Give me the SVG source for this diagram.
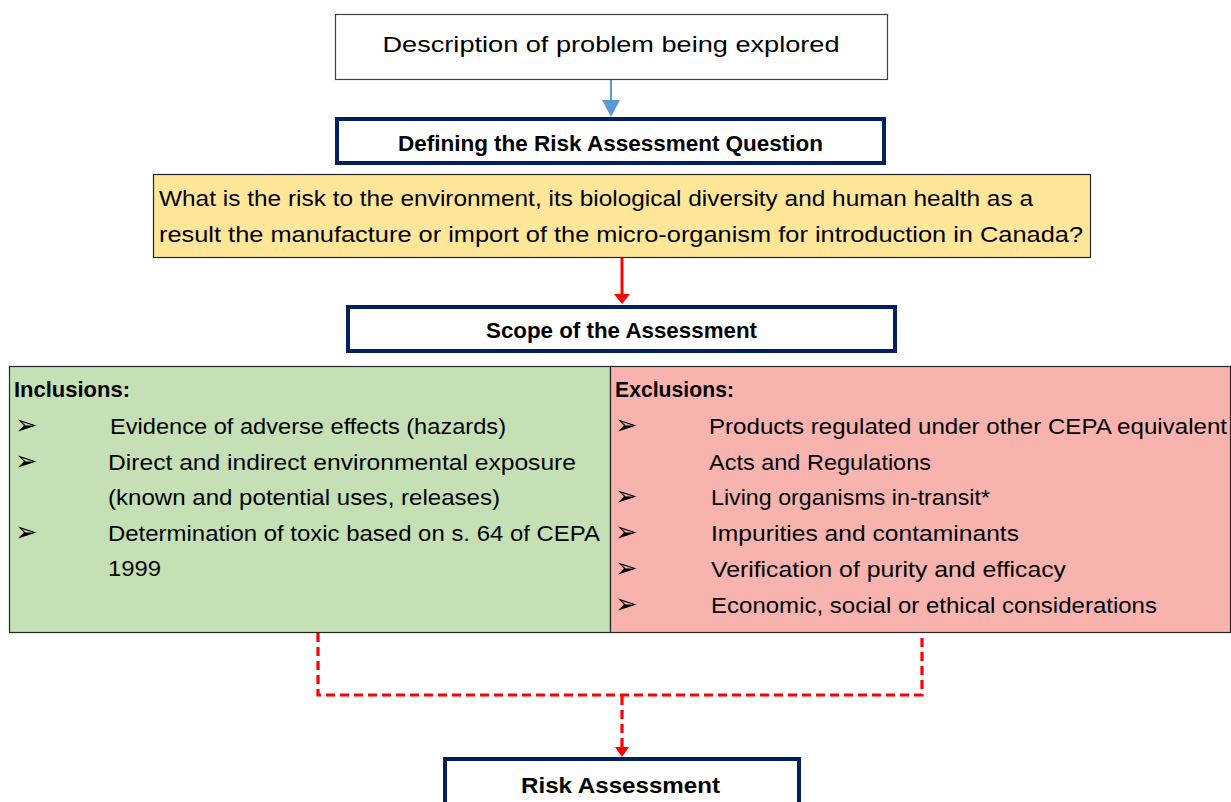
<svg xmlns="http://www.w3.org/2000/svg" width="1231" height="802" viewBox="0 0 1231 802">
  <defs>
    <style>
      .t { font-family: "Liberation Sans", Arial, sans-serif; font-size: 22px; fill: #000; }
      .b { font-weight: bold; }
      .bul { font-family: "DejaVu Sans", sans-serif; font-size: 27px; fill: #000; }
      .navy { fill: #fff; stroke: #002060; stroke-width: 4; }
    </style>
  </defs>

  <!-- connectors -->
  <g id="connectors">
    <line x1="611" y1="79" x2="611" y2="102" stroke="#5B9BD5" stroke-width="2"/>
    <path d="M602,100 L620,100 L611,117 Z" fill="#5B9BD5"/>
    <line x1="622" y1="258" x2="622" y2="298" stroke="#FF0000" stroke-width="3"/>
    <path d="M614,294 L630,294 L622,304 Z" fill="#FF0000"/>
    <path d="M318,633 L318,695 L922,695 L922,633" fill="none" stroke="#FF0000" stroke-width="3.2" stroke-dasharray="9,5"/>
    <line x1="622" y1="696" x2="622" y2="750" stroke="#FF0000" stroke-width="3.2" stroke-dasharray="9,5"/>
    <path d="M615,747 L629,747 L622,757 Z" fill="#FF0000"/>
  </g>

  <g id="node-description">
    <rect x="335.5" y="14.5" width="552" height="65" fill="#fff" stroke="#404040" stroke-width="1.2"/>
    <text class="t" x="611" y="52" text-anchor="middle" textLength="457" lengthAdjust="spacingAndGlyphs">Description of problem being explored</text>
  </g>

  <g id="node-question-title">
    <rect class="navy" x="337" y="119" width="547" height="44"/>
    <text class="t b" x="610.5" y="151" text-anchor="middle" textLength="425" lengthAdjust="spacingAndGlyphs">Defining the Risk Assessment Question</text>
  </g>

  <g id="node-question">
    <rect x="153.5" y="174.5" width="937" height="83" fill="#FFE699" stroke="#262626" stroke-width="1.2"/>
    <text class="t" x="159" y="206" textLength="874" lengthAdjust="spacingAndGlyphs">What is the risk to the environment, its biological diversity and human health as a</text>
    <text class="t" x="159" y="242" textLength="924" lengthAdjust="spacingAndGlyphs">result the manufacture or import of the micro-organism for introduction in Canada?</text>
  </g>

  <g id="node-scope">
    <rect class="navy" x="348" y="307" width="547" height="44"/>
    <text class="t b" x="621.5" y="338" text-anchor="middle" textLength="271" lengthAdjust="spacingAndGlyphs">Scope of the Assessment</text>
  </g>

  <g id="node-inclusions">
    <rect x="9.5" y="366.5" width="601" height="266" fill="#C5E0B4" stroke="#262626" stroke-width="1.2"/>
    <text class="t b" x="14" y="397" textLength="116" lengthAdjust="spacingAndGlyphs">Inclusions:</text>
    <text class="bul" x="15" y="434">➢</text>
    <text class="t" x="110" y="434" textLength="396" lengthAdjust="spacingAndGlyphs">Evidence of adverse effects (hazards)</text>
    <text class="bul" x="15" y="470">➢</text>
    <text class="t" x="108" y="470" textLength="468" lengthAdjust="spacingAndGlyphs">Direct and indirect environmental exposure</text>
    <text class="t" x="108" y="505" textLength="392" lengthAdjust="spacingAndGlyphs">(known and potential uses, releases)</text>
    <text class="bul" x="15" y="541">➢</text>
    <text class="t" x="108" y="541" textLength="492" lengthAdjust="spacingAndGlyphs">Determination of toxic based on s. 64 of CEPA</text>
    <text class="t" x="108" y="576" textLength="53" lengthAdjust="spacingAndGlyphs">1999</text>
  </g>

  <g id="node-exclusions">
    <rect x="610.5" y="366.5" width="620" height="266" fill="#F8B3AF" stroke="#262626" stroke-width="1.2"/>
    <text class="t b" x="615" y="397" textLength="119" lengthAdjust="spacingAndGlyphs">Exclusions:</text>
    <text class="bul" x="615" y="434">➢</text>
    <text class="t" x="709" y="434" textLength="518" lengthAdjust="spacingAndGlyphs">Products regulated under other CEPA equivalent</text>
    <text class="t" x="709" y="470" textLength="222" lengthAdjust="spacingAndGlyphs">Acts and Regulations</text>
    <text class="bul" x="615" y="505">➢</text>
    <text class="t" x="711" y="505" textLength="279" lengthAdjust="spacingAndGlyphs">Living organisms in-transit*</text>
    <text class="bul" x="615" y="541">➢</text>
    <text class="t" x="711" y="541" textLength="308" lengthAdjust="spacingAndGlyphs">Impurities and contaminants</text>
    <text class="bul" x="615" y="577">➢</text>
    <text class="t" x="711" y="577" textLength="355" lengthAdjust="spacingAndGlyphs">Verification of purity and efficacy</text>
    <text class="bul" x="615" y="613">➢</text>
    <text class="t" x="711" y="613" textLength="446" lengthAdjust="spacingAndGlyphs">Economic, social or ethical considerations</text>
  </g>

  <g id="node-risk-assessment">
    <rect class="navy" x="445" y="759" width="354" height="50"/>
    <text class="t b" x="620.5" y="793" text-anchor="middle" textLength="199" lengthAdjust="spacingAndGlyphs">Risk Assessment</text>
  </g>
</svg>
